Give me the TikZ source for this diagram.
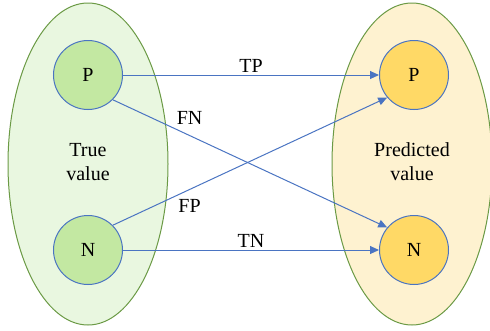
\documentclass[tikz,border=0pt]{standalone}
\usepackage{xcolor}
\usepackage{fontspec}
\setmainfont{Liberation Serif}
\usepackage{tikz}
\usetikzlibrary{arrows.meta, positioning, shapes.geometric}

\definecolor{leafgreen}{HTML}{6B9A45}
\definecolor{paleGreen}{HTML}{E9F7E0}
\definecolor{midGreen}{HTML}{C3E8A2}
\definecolor{paleYellow}{HTML}{FEF2D0}
\definecolor{goldYellow}{HTML}{FFD966}
\definecolor{lineBlue}{HTML}{4A74C2}

\begin{document}
\begin{tikzpicture}[x=1pt, y=-1pt,
            every node/.style={font=\fontsize{20}{24}\selectfont},
            setbox/.style={draw=leafgreen, line width=1pt, ellipse, minimum width=160pt, minimum height=322pt, inner sep=0pt},
            truebox/.style={setbox, fill=paleGreen},
            predbox/.style={setbox, fill=paleYellow},
            classnode/.style={draw=lineBlue, circle, line width=1pt, minimum size=69pt, inner sep=0pt},
            truenode/.style={classnode, fill=midGreen},
            prednode/.style={classnode, fill=goldYellow},
            link/.style={draw=lineBlue, line width=1pt, -{Triangle[length=9pt, width=8pt]}},
        ]
        \useasboundingbox (0,0) rectangle (490,330);
        \node (trueset) at (88,164) [truebox] {};
        \node (predset) at (412,164) [predbox] {};
        \node (truelabel) at (88,162) [align=center] {True\\value};
        \node (predlabel) at (412,162) [align=center] {Predicted\\value};
        \node (tp) at (88,75) [truenode] {P};
        \node (tn) at (88,250) [truenode] {N};
        \node (pp) at (414,75) [prednode] {P};
        \node (pn) at (414,250) [prednode] {N};
        \draw[link] (tp) -- node[above=-1pt] {TP} (pp);
        \draw[link] (tn) -- node[above=-1pt] {TN} (pn);
        \draw[link] (tp.-45) -- node[pos=0.28, above=7pt] {FN} (pn.140);
        \draw[link] (tn.45) -- node[pos=0.28, below=6pt] {FP} (pp.220);
        \end{tikzpicture}
\end{document}
